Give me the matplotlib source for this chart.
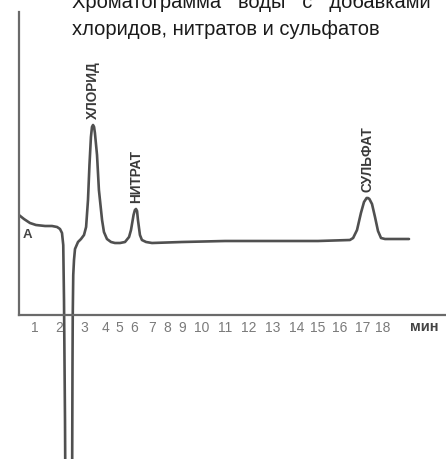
import numpy as np
import matplotlib
matplotlib.use("Agg")
import matplotlib.pyplot as plt

# ---------------- data ----------------
title_lines = ["Хроматограмма   воды   с   добавками", "хлоридов, нитратов и сульфатов"]
tick_minutes = list(range(1, 19))
tick_labels = [str(m) for m in tick_minutes]
unit_label = "мин"

# retention time (min) and detector signal (arbitrary units)
time_min = [0.33, 0.54, 0.79, 1.04, 1.42, 1.71, 1.92, 2.04, 2.12, 2.17, 2.20, 2.24, 2.26, 2.30,
            2.39, 2.48, 2.52, 2.54, 2.55, 2.57, 2.60, 2.64, 2.76, 2.88, 3.00, 3.10, 3.19, 3.26,
            3.33, 3.38, 3.43, 3.48, 3.52, 3.62, 3.71, 3.76, 3.86, 3.95, 4.14, 4.43, 4.71, 5.07,
            5.40, 5.67, 5.80, 5.97, 6.05, 6.11, 6.17, 6.22, 6.33, 6.44, 6.67, 7.00, 9.0, 11.0,
            13.0, 15.0, 16.43, 16.57, 16.74, 16.91, 17.05, 17.18, 17.25, 17.32, 17.45, 17.60,
            17.75, 17.90, 18.10, 18.60, 19.30]
signal = [100, 96, 92, 90, 89, 89, 88, 86, 82, 70, 15, -105, -200, -700,
          -760, -700, -200, -50, 0, 40, 55, 66, 73, 76, 80, 88, 115, 150,
          178, 188, 190, 188, 182, 160, 125, 115, 95, 83, 76, 73, 72, 72,
          73, 78, 85, 100, 105, 106, 104, 95, 80, 75, 73, 72, 73, 74,
          74, 74, 75, 77, 85, 102, 113, 117, 117, 116, 111, 98,
          84, 77, 76, 76, 76]

peak_names = ["ХЛОРИД", "НИТРАТ", "СУЛЬФАТ"]
peak_times = [3.43, 6.11, 17.25]
peak_heights = [190, 106, 117]
marker_label = "А"
marker_time = 0.67
marker_signal = 80

# ---------------- layout / style ----------------
W, H = 446, 459
LINE = "#505050"
AXIS = "#6a6a6a"
TICKC = "#7a7a7a"
FONTS = ["Liberation Sans", "DejaVu Sans"]
plt.rcParams["font.family"] = FONTS

# non-uniform time axis of the original print (minute -> horizontal position)
scale_min = [-1, 0] + tick_minutes + [19, 25]
scale_pos = [-13, 11, 35, 59, 84, 105, 119, 134, 152, 167, 182, 202, 225, 249, 273, 297,
             318, 340, 363, 383, 403, 523]


def fwd(m):
    return np.interp(m, scale_min, scale_pos)


def inv(p):
    return np.interp(p, scale_pos, scale_min)


fig = plt.figure(figsize=(W / 100, H / 100), dpi=100)
ax = fig.add_axes([19 / W, 0, (W - 19) / W, (H - 12) / H])
ax.set_xscale("function", functions=(fwd, inv))
ax.set_xlim(float(inv(19)), float(inv(446)))
ax.set_ylim(-(H - 315), 315 - 12)

ax.plot(time_min, signal, color=LINE, lw=1.9, solid_joinstyle="round",
        solid_capstyle="round", clip_on=True)

for name, t, h in zip(peak_names, peak_times, peak_heights):
    ax.text(t, h + 6, name, rotation=90, ha="center", va="bottom",
            fontsize=9.8, fontweight="bold", color="#3a3a3a")

ax.text(marker_time, marker_signal, marker_label, ha="center", va="center",
        fontsize=9.5, fontweight="bold", color="#444444")

for s in ("top", "right"):
    ax.spines[s].set_visible(False)
ax.spines["bottom"].set_position(("data", 0))
ax.spines["left"].set_bounds(0, 315 - 12)
for s in ("bottom", "left"):
    ax.spines[s].set_color(AXIS)
    ax.spines[s].set_linewidth(1.6)

ax.set_xticks(tick_minutes)
ax.set_xticklabels(tick_labels)
ax.tick_params(axis="x", length=0, pad=4, labelsize=10, labelcolor=TICKC)
ax.set_yticks([])
ax.xaxis.set_minor_locator(matplotlib.ticker.NullLocator())
ax.patch.set_alpha(0)

ax.text(float(inv(424)), -12, unit_label, ha="center", va="center",
        fontsize=10.5, fontweight="bold", color="#444444")

fig.text(72 / W, 1 - 8 / H, title_lines[0], ha="left", va="baseline",
         fontsize=14.5, color="#1a1a1a")
fig.text(72 / W, 1 - 35 / H, title_lines[1], ha="left", va="baseline",
         fontsize=14.5, color="#1a1a1a")

fig.savefig("out.png", dpi=100)
